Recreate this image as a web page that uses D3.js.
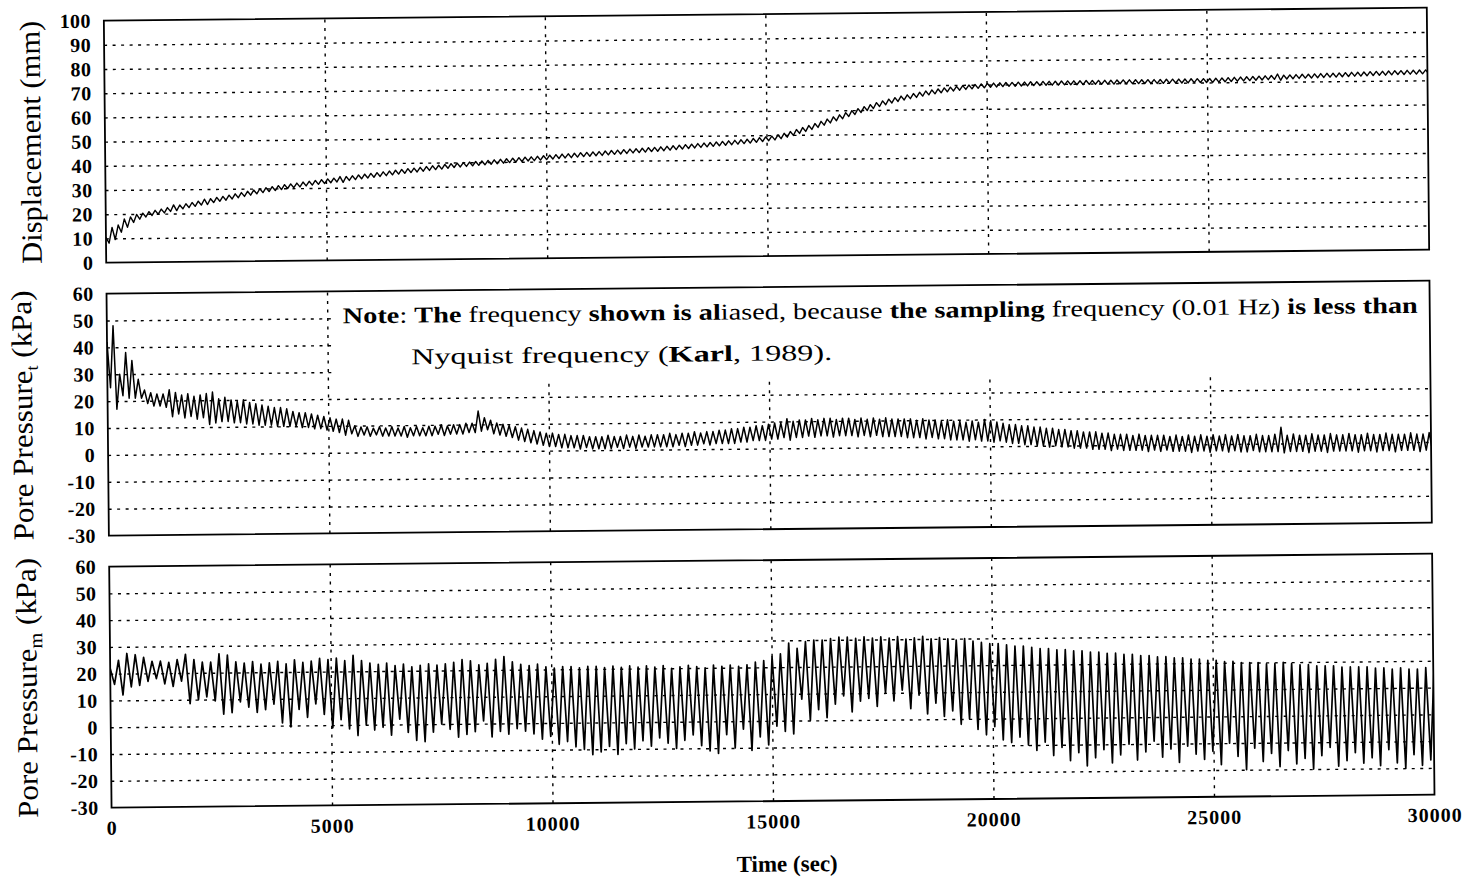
<!DOCTYPE html>
<html>
<head>
<meta charset="utf-8">
<script src="https://cdn.jsdelivr.net/npm/d3@7"></script>
<style>
  body { margin: 0; background: #fff; }
  svg { display: block; }
</style>
</head>
<body>
<div id="chart"></div>
<script>
// ---- data ----
const timeTicks = [0, 5000, 10000, 15000, 20000, 25000, 30000];
const dispTicks = [0, 10, 20, 30, 40, 50, 60, 70, 80, 90, 100];
const ppTicks = [-30, -20, -10, 0, 10, 20, 30, 40, 50, 60];

// apparent (aliased) cycle length in seconds
const periodTop = 140;   // displacement, pore pressure_t
const periodBot = 190;   // pore pressure_m

// displacement (mm): crest / trough of each cycle
const dispHi = [
  10.5,14.5,15.5,18.0,18.8,19.8,20.3,20.9,21.4,21.9,
  22.5,23.6,23.5,24.0,24.5,25.0,25.8,26.0,26.5,26.9,
  27.4,27.9,28.4,28.9,29.4,29.9,30.3,30.7,31.1,31.5,
  31.8,32.1,32.5,32.8,33.1,33.4,33.7,34.0,34.6,34.6,
  34.9,35.2,35.5,35.8,36.1,36.4,36.7,37.0,37.3,37.6,
  37.8,38.1,38.4,38.7,38.9,39.2,39.5,39.7,39.9,40.1,
  40.3,40.5,40.7,40.9,41.1,41.3,41.5,41.7,41.9,42.0,
  42.2,42.4,42.6,42.8,43.0,43.1,43.3,43.5,43.6,43.8,
  43.9,44.1,44.3,44.4,44.6,44.8,44.9,45.1,45.3,45.4,
  45.6,45.8,46.0,46.2,46.4,46.6,46.8,47.0,47.2,47.4,
  47.6,47.8,48.0,48.2,48.4,48.7,49.0,49.3,49.6,50.1,
  50.7,51.4,52.2,53.0,53.8,54.6,55.5,56.4,57.3,58.1,
  59.0,59.8,60.6,61.4,62.2,63.0,63.7,64.4,65.0,65.6,
  66.1,66.6,67.1,67.6,68.0,68.4,68.8,69.1,69.4,69.7,
  69.9,70.1,70.3,70.5,70.6,70.7,70.8,70.8,70.9,70.9,
  71.0,71.0,71.1,71.1,71.1,71.2,71.2,71.2,71.2,71.3,
  71.3,71.3,71.3,71.3,71.4,71.4,71.4,71.4,71.4,71.4,
  71.4,71.4,71.5,71.5,71.5,71.5,71.6,71.6,71.6,71.6,
  71.7,71.8,71.9,72.0,72.1,72.2,72.3,72.4,72.5,72.6,
  73.2,72.7,72.8,72.9,73.0,73.0,73.1,73.2,73.3,73.3,
  73.4,73.5,73.6,73.6,73.7,73.8,73.9,73.9,74.0,74.1,
  74.1,74.2,74.2,74.3,74.3
];
const dispLo = [
  8.0,9.5,12.5,14.5,16.5,17.8,18.7,19.3,19.8,20.3,
  20.9,21.2,21.9,22.4,22.9,23.4,23.6,24.4,24.9,25.3,
  25.8,26.3,26.8,27.3,27.8,28.3,28.7,29.1,29.5,29.9,
  30.2,30.5,30.9,31.2,31.5,31.8,32.1,32.4,32.2,33.0,
  33.3,33.6,33.9,34.2,34.5,34.8,35.1,35.4,35.7,36.0,
  36.2,36.5,36.8,37.1,37.3,37.6,37.9,38.1,38.3,38.5,
  38.7,38.9,39.1,39.3,39.5,39.7,39.9,40.1,40.3,40.4,
  40.6,40.8,41.0,41.2,41.4,41.5,41.7,41.9,42.0,42.2,
  42.3,42.5,42.7,42.8,43.0,43.2,43.3,43.5,43.7,43.8,
  44.0,44.2,44.4,44.6,44.8,45.0,45.2,45.4,45.6,45.8,
  46.0,46.2,46.4,46.6,46.8,47.1,47.4,47.7,48.0,48.5,
  49.1,49.8,50.6,51.4,52.2,53.0,53.9,54.8,55.7,56.5,
  57.4,58.2,59.0,59.8,60.6,61.4,62.1,62.8,63.4,64.0,
  64.5,65.0,65.5,66.0,66.4,66.8,67.2,67.5,67.8,68.1,
  68.3,68.5,68.7,68.9,69.0,69.1,69.2,69.2,69.3,69.3,
  69.4,69.4,69.5,69.5,69.5,69.6,69.6,69.6,69.6,69.7,
  69.7,69.7,69.7,69.7,69.8,69.8,69.8,69.8,69.8,69.8,
  69.8,69.8,69.9,69.9,69.9,69.9,70.0,70.0,70.0,70.0,
  70.1,70.2,70.3,70.4,70.5,70.6,70.7,70.8,70.9,71.0,
  70.6,71.1,71.2,71.3,71.4,71.4,71.5,71.6,71.7,71.7,
  71.8,71.9,72.0,72.0,72.1,72.2,72.3,72.3,72.4,72.5,
  72.5,72.6,72.6,72.7,72.7
];

// pore pressure_t (kPa)
const pptHi = [
  42,48,30,38,35,28,24,23,22.5,22.5,
  24,23,22,22.5,21.5,22,22.5,23,20.5,21,
  20,19.5,20,19,18.5,18,17.5,17,17,16.5,
  15.5,15,15,14.5,14,13.5,13,12.5,12.5,12,
  10,9.5,9.5,9,9.5,9,9.5,9,9.5,9,
  9.5,9,9.5,9.5,10,9.5,10,10,10.5,10.5,
  15,12.5,11.5,10.5,10,9.5,9,8.5,8,7.5,
  7,6.5,6.5,6,6,5.5,5.5,5.5,5,5,
  5,5.5,5,5,5.5,5,5.5,5,5.5,5.5,
  5.5,6,5.5,6,6,6.5,6,6.5,6.5,7,
  7,7.5,7.5,8,8,8.5,8.5,9,9.5,9.5,
  11,10,10.5,10.5,11,10.5,11,11,10.5,11,
  11,10.5,11,10.5,11,10.5,11,10.5,10.5,10.5,
  10.5,10,10.5,10,10,9.5,10,9.5,9.5,9,
  9.5,9,10,9.5,9,8.5,8,8,7.5,7.5,
  7,7,6.5,6.5,6,6,5.5,5.5,5,5,
  5,4.5,4.5,4,4,4,3.5,4,3.5,3.5,
  3.5,3.5,3,3.5,3,3.5,3,3.5,3,3.5,
  3,3.5,3,3.5,3,3,3.5,3,3,3.5,
  6,3,3.5,3,3,3.5,3,3,3.5,3,
  3,3.5,3,3,3.5,3,3,3.5,3,3,
  3,3.5,3,3,3.5
];
const pptLo = [
  25,17,22,21,21,21,19,18,18,17.5,
  14,15,13.5,14,13,13.5,11,11.5,12,12,
  11.5,11.5,11,11,10.5,10.5,10.5,10,10,10,
  10,9.5,9.5,9,9,8.5,8,7.5,6.5,7,
  6,6.5,6,6.5,6,6,6,6,5.5,6,
  6,6,6,6.5,6,6.5,6.5,6.5,7,7,
  7.5,8,6.5,6,5.5,5,4,3.5,3,2.5,
  2,1.5,1.5,1,1,1,0.5,1,0.5,0.5,
  0.5,0.5,1,0.5,1,0.5,1,1,1,1,
  1,1,1.5,1,1.5,1.5,2,1.5,2,2,
  2,2,2.5,2.5,3,3,3,3.5,3.5,4,
  3,4,4,4.5,4,4.5,4.5,4,4.5,4.5,
  4.5,4,4.5,4,4.5,4,4,4,4,3.5,
  3.5,3.5,3,3.5,3,3,2.5,2.5,2.5,2,
  2.5,2,2,1.5,2,1.5,1,1,0.5,0.5,
  0,0,-0.5,0,-0.5,-0.5,-1,-1,-1,-1.5,
  -1.5,-1.5,-2,-1.5,-2,-2,-2,-2,-2.5,-2,
  -2.5,-2,-2.5,-2.5,-2.5,-3,-2.5,-2.5,-3,-2.5,
  -2.5,-3,-2.5,-3,-3,-2.5,-3,-3,-3,-3,
  -3.5,-3,-3,-3,-3.5,-3,-3,-3.5,-3,-3,
  -3,-3,-3.5,-3,-3,-3.5,-3,-3,-3.5,-3,
  -3,-3,-3.5,-3,-3
];

// pore pressure_m (kPa)
const ppmHi = [
  22,25,27.5,27,26,24.5,24.5,24,25,27,
  25,24,24,27,26.5,24,23.5,24,23,23.5,
  24,23,24.5,23.5,24,25,24.5,25,24,26,
  24,23,22.5,23,22,22.5,21.5,22,22.5,22,
  22.5,23,24,23.5,22,22.5,24,25,23,22,
  21.5,22,21,20.5,21,21,20.5,21,21,20.5,
  21,20.5,21,20.5,21,20.5,21,20,20.5,21,
  20.5,20,21,20.5,21,20.5,21,22,22.5,24,
  25,29,27,29.5,30,30,30.5,31,31,30.5,
  31,30.5,31,30.5,31,30,30.5,31,30,30.5,
  30,29.5,30,29,28.5,28,28,27.5,27,27,
  26.5,26,26,25.5,25.5,25,25,24.5,24.5,24,
  24,23.5,23.5,23,23,22.5,22.5,22,22,21.5,
  21.5,21,21,20.5,20.5,20,20,20,19.5,19.5,
  20,19.5,19,19,18.5,18.5,18.5,18,18,18,
  18,17.5,17.5,17,17.5,17,17,17.5,18
];
const ppmLo = [
  16,12,15,15.5,17,18,16,15,17,8.5,
  10,11,9.5,4.5,5,9,7,5,6,8,
  1,-0.5,6,3,8,4,-1,2,-1.5,-4,
  0,-2,-1,-4,2,-3,-6,-6.5,-3,0,
  -2,-5,-4,-3,1,-5,-3,-4,-2,-3,
  -4,-6,-5,-8,-7,-9,-10,-12,-11,-9,
  -12,-8,-10,-7,-9,-6,-8,-10,-7,-5,
  -9,-11,-12,-5,-10,-3,-11,-6,-9,-2,
  -4,-5,8,0,4,1,6,9,3,7,
  8,5,10,7,11,4,9,2,6,1,
  3,-2,0,-4,-6,-3,-8,-9,-7,-10,
  -12,-9,-14,-11,-16,-13,-18,-15,-12,-17,
  -14,-10,-16,-13,-9,-15,-12,-17,-11,-14,
  -16,-13,-18,-10,-15,-20,-12,-17,-14,-19,
  -13,-18,-16,-20,-15,-12,-19,-17,-14,-18,
  -16,-19,-13,-18,-20,-15,-19,-17,-5
];

// ---- layout ----
const W = 1469, H = 884;
const x = d3.scaleLinear().domain([0, 30000]).range([108, 1431]);
const plotW = x.range()[1] - x.range()[0];
const serif = "'Liberation Serif', 'Times New Roman', serif";

// crest/trough pairs -> points along the time axis
function toSeries(hi, lo, period) {
  const pts = [];
  hi.forEach((h, k) => {
    pts.push({ t: k * period, v: h });
    pts.push({ t: k * period + period / 2, v: lo[k] });
  });
  return pts;
}

const panels = [
  { id: "disp", domain: [0, 100], top: 14.5, bottom: 256.5, ticks: dispTicks, lw: 1.4,
    data: toSeries(dispHi, dispLo, periodTop) },
  { id: "ppt", domain: [-30, 60], top: 287.5, bottom: 529.5, ticks: ppTicks, lw: 1.5,
    data: toSeries(pptHi, pptLo, periodTop) },
  { id: "ppm", domain: [-30, 60], top: 560.5, bottom: 801.5, ticks: ppTicks, lw: 1.7,
    data: toSeries(ppmHi, ppmLo, periodBot) }
];

const svg = d3.select("#chart").append("svg")
  .attr("width", W).attr("height", H)
  .attr("viewBox", `0 0 ${W} ${H}`);
svg.append("rect").attr("width", W).attr("height", H).attr("fill", "#fff");

// the scanned page is tilted a little
const root = svg.append("g").attr("transform", "rotate(-0.56,734,442)");
const defs = svg.append("defs");

panels.forEach(p => {
  const y = d3.scaleLinear().domain(p.domain).range([p.bottom, p.top]);
  const g = root.append("g").attr("class", "panel-" + p.id);
  const h = p.bottom - p.top;

  // dotted grid, horizontal
  g.append("g").attr("transform", `translate(${x.range()[0]},0)`)
    .call(d3.axisLeft(y).tickValues(p.ticks.slice(1, -1)).tickSize(-plotW).tickFormat(""))
    .call(s => s.select(".domain").remove())
    .selectAll("line")
    .attr("stroke", "#000").attr("stroke-width", 1.4).attr("stroke-dasharray", "3,5.5");

  // dotted grid, vertical
  g.append("g").attr("transform", `translate(0,${p.bottom})`)
    .call(d3.axisBottom(x).tickValues(timeTicks.slice(1, -1)).tickSize(-h).tickFormat(""))
    .call(s => s.select(".domain").remove())
    .selectAll("line")
    .attr("stroke", "#000").attr("stroke-width", 1.4).attr("stroke-dasharray", "3,5.5");

  // white note area hides grid in the middle panel
  if (p.id === "ppt") {
    g.append("rect")
      .attr("x", x(5000) + 5).attr("y", p.top)
      .attr("width", x.range()[1] - x(5000) - 5).attr("height", y(25.5) - p.top)
      .attr("fill", "#fff");
  }

  defs.append("clipPath").attr("id", "clip-" + p.id)
    .append("rect").attr("x", x.range()[0]).attr("y", p.top)
    .attr("width", plotW).attr("height", h);

  const line = d3.line().x(d => x(d.t)).y(d => y(d.v));
  g.append("path").datum(p.data)
    .attr("clip-path", `url(#clip-${p.id})`)
    .attr("d", line)
    .attr("fill", "none").attr("stroke", "#000")
    .attr("stroke-width", p.lw).attr("stroke-linejoin", "round");

  // frame
  g.append("rect")
    .attr("x", x.range()[0]).attr("y", p.top)
    .attr("width", plotW).attr("height", h)
    .attr("fill", "none").attr("stroke", "#000").attr("stroke-width", 1.8);

  // y tick labels
  g.append("g").attr("transform", `translate(${x.range()[0]},0)`)
    .call(d3.axisLeft(y).tickValues(p.ticks).tickSize(0).tickPadding(13).tickFormat(d => String(d)))
    .call(s => s.select(".domain").remove())
    .selectAll("text")
    .attr("fill", "#000")
    .style("font-family", serif).style("font-weight", "bold")
    .style("font-size", "20px").style("letter-spacing", "0.4px");
});

// x tick labels under the bottom panel
root.append("g").attr("transform", `translate(0,${panels[2].bottom})`)
  .call(d3.axisBottom(x).tickValues(timeTicks).tickSize(0).tickPadding(13).tickFormat(d => String(d)))
  .call(s => s.select(".domain").remove())
  .selectAll("text")
  .attr("fill", "#000")
  .style("font-family", serif).style("font-weight", "bold")
  .style("font-size", "20px").style("letter-spacing", "1px");

root.append("text")
  .attr("x", 783).attr("y", 872)
  .attr("text-anchor", "middle")
  .style("font-family", serif).style("font-weight", "bold").style("font-size", "23px")
  .text("Time (sec)");

// y titles
function yTitle(cx, cy, len, main, sub, subSize) {
  const t = root.append("text")
    .attr("transform", `translate(${cx},${cy}) rotate(-90)`)
    .attr("text-anchor", "middle")
    .attr("textLength", len).attr("lengthAdjust", "spacingAndGlyphs")
    .style("font-family", serif).style("font-size", "29px");
  t.append("tspan").text(main);
  if (sub) {
    t.append("tspan").attr("dy", 6).style("font-size", subSize + "px").text(sub);
    t.append("tspan").attr("dy", -6).text(" (kPa)");
  }
}
yTitle(43.5, 135.5, 243, "Displacement (mm)");
yTitle(32.5, 408.5, 250, "Pore Pressure", "t", 17);
yTitle(34.3, 681, 260, "Pore Pressure", "m", 19);

// note inside the middle panel
const note1 = root.append("text")
  .attr("x", 344).attr("y", 319.5)
  .attr("textLength", 1075).attr("lengthAdjust", "spacingAndGlyphs")
  .style("font-family", serif).style("font-size", "22.5px");
[["Note", true], [": ", false], ["The", true], [" frequency ", false],
 ["shown is al", true], ["iased, because ", false], ["the sampling", true],
 [" frequency (0.01 Hz) ", false], ["is less than", true]]
  .forEach(([s, b]) => note1.append("tspan").style("font-weight", b ? "bold" : "normal").text(s));

const note2 = root.append("text")
  .attr("x", 412).attr("y", 361)
  .attr("textLength", 421).attr("lengthAdjust", "spacingAndGlyphs")
  .style("font-family", serif).style("font-size", "22.5px");
[["Nyquist frequency (", false], ["Karl", true], [", 1989).", false]]
  .forEach(([s, b]) => note2.append("tspan").style("font-weight", b ? "bold" : "normal").text(s));
</script>
</body>
</html>
